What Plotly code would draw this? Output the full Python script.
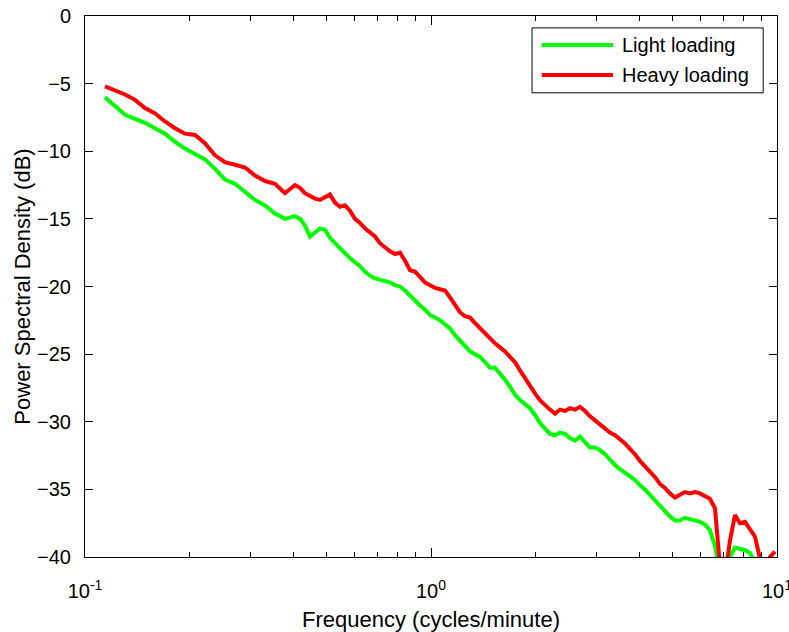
import plotly.graph_objects as go

# Frequency grid (cycles/minute)
freq = [0.1142, 0.1221, 0.1305, 0.1395, 0.1491, 0.1594, 0.1703, 0.1820, 0.1945, 0.2079,
        0.2222, 0.2375, 0.2538, 0.2713, 0.2900, 0.3099, 0.3312, 0.3540, 0.3784,
        0.4044, 0.4181, 0.4322, 0.4469, 0.4620, 0.4777, 0.4938, 0.5105, 0.5277, 0.5458,
        0.5640, 0.5831, 0.6029, 0.6233, 0.6443, 0.6661, 0.6887, 0.7120, 0.7360, 0.7609,
        0.7870, 0.8136, 0.8413, 0.8697, 0.8990, 0.9294, 0.9610, 0.9934, 1.027, 1.0616,
        1.098, 1.1346, 1.173, 1.2125, 1.254, 1.2963, 1.340, 1.3853, 1.433, 1.4815,
        1.531, 1.5826, 1.637, 1.6914, 1.749, 1.8081, 1.870, 1.9321, 1.998, 2.0651,
        2.136, 2.2070, 2.283, 2.3589, 2.440, 2.5212, 2.608, 2.6946, 2.787, 2.8800,
        2.979, 3.0786, 3.184, 3.290, 3.403, 3.516, 3.637, 3.758, 3.887, 4.017,
        4.155, 4.293, 4.441, 4.588, 4.746, 4.904, 5.073, 5.241, 5.422, 5.602,
        5.794, 5.987, 6.193, 6.399, 6.619, 6.839, 7.075, 7.310, 7.561, 7.813,
        8.082, 8.350, 8.638, 8.925, 9.232, 9.539, 9.867]

heavy_db = [-5.2, -5.5, -5.8, -6.2, -6.8, -7.2, -7.8, -8.3, -8.7, -8.8,
            -9.4, -10.3, -10.8, -11.0, -11.2, -11.8, -12.2, -12.4, -13.1,
            -12.5, -12.7, -13.1, -13.3, -13.5, -13.6, -13.4, -13.2, -13.8, -14.1,
            -14.0, -14.4, -15.0, -15.3, -15.7, -16.0, -16.3, -16.8, -17.1, -17.4,
            -17.6, -17.5, -18.1, -18.8, -18.9, -19.3, -19.7, -19.9, -20.1, -20.2,
            -20.3, -20.8, -21.4, -21.9, -22.2, -22.3, -22.7, -23.1, -23.5, -23.8,
            -24.2, -24.5, -24.8, -25.2, -25.6, -26.2, -26.8, -27.3, -27.9, -28.4,
            -28.8, -29.1, -29.4, -29.1, -29.2, -29.0, -29.1, -28.9, -29.2, -29.6,
            -29.9, -30.2, -30.5, -30.8, -31.0, -31.3, -31.6, -32.0, -32.4, -32.9,
            -33.3, -33.6, -34.1, -34.6, -34.9, -35.3, -35.6, -35.4, -35.2, -35.3,
            -35.2, -35.3, -35.5, -35.7, -36.4, -40.6, -41.5, -38.8, -36.9, -37.5,
            -37.4, -37.9, -38.5, -40.1, -41.5, -40.0, -39.6]

light_db = [-6.0, -6.7, -7.3, -7.6, -7.9, -8.3, -8.7, -9.3, -9.8, -10.2,
            -10.6, -11.3, -12.1, -12.4, -13.0, -13.6, -14.0, -14.6, -15.0,
            -14.8, -15.0, -15.5, -16.3, -16.0, -15.7, -15.8, -16.4, -16.8, -17.2,
            -17.5, -17.9, -18.2, -18.5, -18.9, -19.2, -19.4, -19.5, -19.6, -19.7,
            -19.9, -20.0, -20.3, -20.7, -21.0, -21.4, -21.7, -22.1, -22.3, -22.5,
            -22.8, -23.1, -23.6, -24.0, -24.4, -24.8, -25.0, -25.2, -25.6, -26.0,
            -26.0, -26.4, -26.9, -27.4, -28.0, -28.4, -28.7, -29.0, -29.5, -30.1,
            -30.5, -30.9, -31.0, -30.8, -30.9, -31.2, -31.4, -31.1, -31.5, -31.9,
            -31.9, -32.1, -32.4, -32.8, -33.2, -33.5, -33.8, -34.0, -34.3, -34.7,
            -35.0, -35.4, -35.8, -36.1, -36.6, -37.0, -37.3, -37.3, -37.1, -37.2,
            -37.3, -37.4, -37.6, -38.0, -39.2, -41.0, -42.0, -40.0, -39.3, -39.4,
            -39.5, -39.7, -40.4, -42.0, -43.0, -43.0, -43.0]

series_names = ["Light loading", "Heavy loading"]
series_colors = ["#00ff00", "#ff0000"]

x_tick_vals = [0.1, 1, 10]
x_tick_text = ["10<sup>-1</sup>", "10<sup>0</sup>", "10<sup>1</sup>"]
x_minor_vals = [0.2, 0.3, 0.4, 0.5, 0.6, 0.7, 0.8, 0.9, 2, 3, 4, 5, 6, 7, 8, 9]
y_tick_vals = [0, -5, -10, -15, -20, -25, -30, -35, -40]

FONT = "Arial, Liberation Sans, sans-serif"
LW = 4

fig = go.Figure()
for name, color, vals in zip(series_names, series_colors, [light_db, heavy_db]):
    fig.add_trace(go.Scatter(x=freq, y=vals, mode="lines", name=name,
                             line=dict(color=color, width=LW), showlegend=False))

# MATLAB-style legend box (long line samples), placed in paper coordinates
leg_x0, leg_x1, leg_y0, leg_y1 = 0.646, 0.980, 0.858, 0.978
line_x0, line_x1, text_x = 0.660, 0.763, 0.773
row_y = [0.9464, 0.8909]
shapes = [dict(type="rect", xref="paper", yref="paper", x0=leg_x0, x1=leg_x1,
               y0=leg_y0, y1=leg_y1, line=dict(color="black", width=1),
               fillcolor="white", layer="above")]
annotations = []
for name, color, ry in zip(series_names, series_colors, row_y):
    shapes.append(dict(type="line", xref="paper", yref="paper", x0=line_x0, x1=line_x1,
                       y0=ry, y1=ry, line=dict(color=color, width=LW), layer="above"))
    annotations.append(dict(xref="paper", yref="paper", x=text_x, y=ry, text=name,
                            showarrow=False, xanchor="left", yanchor="middle",
                            font=dict(size=20, family=FONT, color="black")))

fig.update_layout(
    width=789, height=632,
    margin=dict(l=85, r=12, t=16, b=75, autoexpand=False),
    paper_bgcolor="white", plot_bgcolor="white",
    font=dict(family=FONT, size=20, color="black"),
    shapes=shapes, annotations=annotations,
)
fig.update_xaxes(
    type="log", range=[-1, 1], automargin=False,
    tickvals=x_tick_vals, ticktext=x_tick_text, ticklabeloverflow="allow",
    ticks="inside", ticklen=9, tickcolor="black", tickwidth=1,
    minor=dict(tickvals=x_minor_vals, ticks="inside", ticklen=5, tickcolor="black"),
    showline=True, linecolor="black", linewidth=1, mirror="allticks",
    showgrid=False, zeroline=False,
    tickfont=dict(size=20), ticklabelstandoff=16,
    title=dict(text="Frequency (cycles/minute)", font=dict(size=22), standoff=10),
)
fig.update_yaxes(
    range=[-40, 0], automargin=False, tickvals=y_tick_vals,
    ticks="inside", ticklen=8, tickcolor="black", tickwidth=1,
    showline=True, linecolor="black", linewidth=1, mirror="allticks",
    showgrid=False, zeroline=False,
    tickfont=dict(size=20), ticklabelstandoff=9,
    title=dict(text="Power Spectral Density (dB)", font=dict(size=22), standoff=0),
)

fig.write_html("out.html")
